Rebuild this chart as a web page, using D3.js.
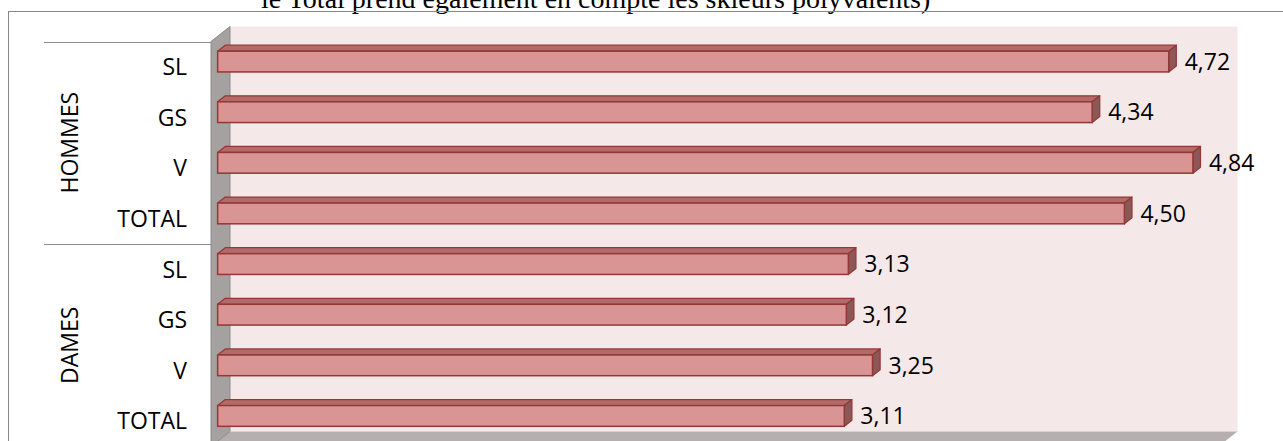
<!DOCTYPE html>
<html>
<head>
<meta charset="utf-8">
<script src="https://cdn.jsdelivr.net/npm/d3@7"></script>
<style>
  body { margin: 0; background: #fff; }
  svg { display: block; }
</style>
</head>
<body>
<svg></svg>
<script>
const groups = ['HOMMES', 'DAMES']
const events = ['SL', 'GS', 'V', 'TOTAL']
const hommes = [4.72, 4.34, 4.84, 4.50]
const dames = [3.13, 3.12, 3.25, 3.11]
const xTicks = [0, 5]
const title = 'le Total prend également en compte les skieurs polyvalents)'

const W = 1283
const H = 441
const DX = 19, DY = -15      // depth of the 3d box
const f1 = 0.35, f2 = 0.75    // bar depth, as fraction of the box depth

const rows = []
groups.forEach((g, gi) => {
  const vals = gi === 0 ? hommes : dames
  events.forEach((e, i) => rows.push({ key: g + '-' + e, group: g, event: e, value: vals[i] }))
})

const fr = d3.formatLocale({ decimal: ',', thousands: ' ', grouping: [3], currency: ['', ''] }).format('.2f')

const svg = d3.select('svg')
  .attr('width', W)
  .attr('height', H)

const x = d3.scaleLinear()
  .domain(d3.extent(xTicks))
  .range([211, 1218.5])

const y = d3.scaleBand()
  .domain(rows.map(d => d.key))
  .range([41.5, 446.5])
  .paddingInner(0.59)
  .paddingOuter(0.295)

const x0 = x.range()[0], x1 = x.range()[1]
const y0 = y.range()[0], y1 = y.range()[1]

// title (cut at the top like the original)
svg.append('text')
  .attr('x', 261)
  .attr('y', 8)
  .attr('font-family', '"Liberation Serif", serif')
  .attr('font-size', 28)
  .attr('fill', '#000')
  .text(title)

// chart border
svg.append('rect')
  .attr('x', 8.5)
  .attr('y', 11.5)
  .attr('width', W + 20)
  .attr('height', H + 20)
  .attr('fill', 'none')
  .attr('stroke', '#868686')
  .attr('stroke-width', 1)

const pts = a => a.map(p => p.join(',')).join(' ')

// back wall
svg.append('polygon')
  .attr('points', pts([[x0 + DX, y0 + DY], [x1 + DX, y0 + DY], [x1 + DX, y1 + DY], [x0 + DX, y1 + DY]]))
  .attr('fill', '#f5e8e8')

// floor
svg.append('polygon')
  .attr('points', pts([[x0, y1], [x0 + DX, y1 + DY], [x1 + DX, y1 + DY], [x1, y1]]))
  .attr('fill', '#b5afaf')

// side wall
svg.append('polygon')
  .attr('points', pts([[x0, y0], [x0 + DX, y0 + DY], [x0 + DX, y1 + DY], [x0, y1]]))
  .attr('fill', '#a6a1a1')
  .attr('stroke', '#8f8a8a')
  .attr('stroke-width', 1)

// bars
const bw = y.bandwidth()
const bars = svg.append('g')
  .selectAll('g')
  .data(rows)
  .enter()
  .append('g')

const P = (v, yy, t) => [x(v) + t * DX, yy + t * DY]

bars.append('polygon')
  .attr('points', d => pts([P(0, y(d.key), f1), P(d.value, y(d.key), f1), P(d.value, y(d.key), f2), P(0, y(d.key), f2)]))
  .attr('fill', '#b06b6a')
  .attr('stroke', '#953735')
  .attr('stroke-width', 1.2)
  .attr('stroke-linejoin', 'round')

bars.append('polygon')
  .attr('points', d => pts([P(d.value, y(d.key), f1), P(d.value, y(d.key), f2), P(d.value, y(d.key) + bw, f2), P(d.value, y(d.key) + bw, f1)]))
  .attr('fill', '#8c5757')
  .attr('stroke', '#953735')
  .attr('stroke-width', 1.2)
  .attr('stroke-linejoin', 'round')

bars.append('rect')
  .attr('x', d => P(0, 0, f1)[0])
  .attr('y', d => P(0, y(d.key), f1)[1])
  .attr('width', d => x(d.value) - x(0))
  .attr('height', bw)
  .attr('fill', '#d99594')
  .attr('stroke', '#953735')
  .attr('stroke-width', 1.5)

// value labels
bars.append('text')
  .attr('x', d => P(d.value, 0, f1)[0] + 16)
  .attr('y', d => P(0, y(d.key) + bw / 2, f1)[1])
  .attr('dy', '0.36em')
  .attr('font-family', '"Open Sans", sans-serif')
  .attr('font-size', 23)
  .attr('fill', '#000')
  .text(d => fr(d.value))

// category axis (two levels)
const ax = svg.append('g')
  .attr('font-family', '"Open Sans", sans-serif')
  .attr('font-size', 23)
  .attr('fill', '#000')

ax.selectAll('text.ev')
  .data(rows)
  .enter()
  .append('text')
  .attr('class', 'ev')
  .attr('x', 187)
  .attr('y', d => y(d.key) + bw / 2)
  .attr('dy', '0.36em')
  .attr('text-anchor', 'end')
  .text(d => d.event)

const step = y.step()
const gy = gi => y0 + gi * events.length * step

ax.selectAll('line')
  .data(d3.range(groups.length + 1))
  .enter()
  .append('line')
  .attr('x1', 44)
  .attr('x2', x0)
  .attr('y1', gi => Math.round(gy(gi)) + 0.5)
  .attr('y2', gi => Math.round(gy(gi)) + 0.5)
  .attr('stroke', '#8c8c8c')
  .attr('stroke-width', 1)

ax.selectAll('text.gr')
  .data(groups)
  .enter()
  .append('text')
  .attr('class', 'gr')
  .attr('text-anchor', 'middle')
  .attr('transform', (g, gi) => `translate(78, ${(gy(gi) + gy(gi + 1)) / 2}) rotate(-90)`)
  .text(g => g)
</script>
</body>
</html>
